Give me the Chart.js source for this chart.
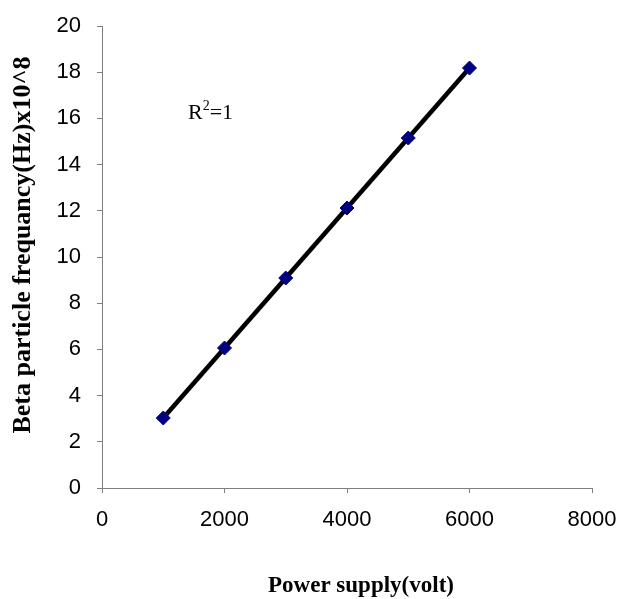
<!DOCTYPE html>
<html>
<head>
<meta charset="utf-8">
<script src="https://cdn.jsdelivr.net/npm/chart.js@4"></script>
<style>
  html, body { margin: 0; padding: 0; background: #fff; }
  #wrap { width: 623px; height: 599px; }
</style>
</head>
<body>
<div id="wrap"><canvas id="betaChart" width="623" height="599"></canvas></div>
<script>
// values
const voltages = [1000, 2000, 3000, 4000, 5000, 6000];
const frequencies = [3.03, 6.06, 9.09, 12.12, 15.15, 18.18];
const xTicks = [0, 2000, 4000, 6000, 8000];
const yTicks = [0, 2, 4, 6, 8, 10, 12, 14, 16, 18, 20];
const xTitle = 'Power supply(volt)';
const yTitle = 'Beta particle frequancy(Hz)x10^8';

const points = voltages.map((v, i) => ({ x: v, y: frequencies[i] }));
const serif = '"Liberation Serif", "Times New Roman", serif';

// axis titles and the R^2 note are drawn by hand so they can sit where Excel put them
const extraText = {
    id: 'extraText',
    afterDraw(chart) {
        const c = chart.ctx;
        c.save();
        c.fillStyle = '#000';
        c.textAlign = 'center';
        c.textBaseline = 'middle';

        // x title
        c.font = 'bold 23px ' + serif;
        c.fillText(xTitle, 361, 586);

        // y title, rotated
        c.translate(23, 245);
        c.rotate(-Math.PI / 2);
        c.font = 'bold 26px ' + serif;
        c.fillText(yTitle, 0, 0);
        c.restore();

        // R^2 = 1 label
        c.save();
        c.fillStyle = '#000';
        c.textBaseline = 'alphabetic';
        c.textAlign = 'left';
        let x = 188, y = 119;
        c.font = '22px ' + serif;
        c.fillText('R', x, y);
        x += c.measureText('R').width;
        c.font = '14px ' + serif;
        c.fillText('2', x, y - 9);
        x += c.measureText('2').width;
        c.font = '22px ' + serif;
        c.fillText('=1', x, y);
        c.restore();
    }
};

const ctx = document.getElementById('betaChart').getContext('2d');
new Chart(ctx, {
    type: 'scatter',
    data: {
        datasets: [{
            data: points,
            showLine: true,
            borderColor: '#000',
            borderWidth: 4.5,
            pointStyle: 'rectRot',
            pointRadius: 7,
            pointBackgroundColor: '#000080',
            pointBorderColor: '#000080',
            pointBorderWidth: 1,
            tension: 0
        }]
    },
    options: {
        responsive: false,
        animation: false,
        layout: { autoPadding: false, padding: { top: 26, right: 31, left: 0, bottom: 0 } },
        plugins: { legend: { display: false }, tooltip: { enabled: false } },
        scales: {
            x: {
                type: 'linear',
                min: 0, max: 8000,
                afterFit: s => {
                    s.height = 111;
                    s.paddingLeft = 0;
                    s.paddingRight = 0;
                },
                afterBuildTicks: s => { s.ticks = xTicks.map(v => ({ value: v })); },
                grid: { drawOnChartArea: false, drawTicks: true, tickLength: 5, color: '#808080' },
                border: { color: '#808080', width: 1 },
                ticks: {
                    color: '#000', padding: 14,
                    font: { family: '"Liberation Sans", Arial, sans-serif', size: 22 },
                    maxRotation: 0,
                    callback: v => String(v)
                }
            },
            y: {
                type: 'linear',
                min: 0, max: 20,
                afterFit: s => {
                    s.width = 102;
                    s.paddingTop = 0;
                    s.paddingBottom = 0;
                },
                afterBuildTicks: s => { s.ticks = yTicks.map(v => ({ value: v })); },
                grid: { drawOnChartArea: false, drawTicks: true, tickLength: 5, color: '#808080' },
                border: { color: '#808080', width: 1 },
                ticks: {
                    color: '#000', padding: 16,
                    font: { family: '"Liberation Sans", Arial, sans-serif', size: 22 },
                    callback: v => String(v)
                }
            }
        }
    },
    plugins: [extraText]
});
</script>
</body>
</html>
